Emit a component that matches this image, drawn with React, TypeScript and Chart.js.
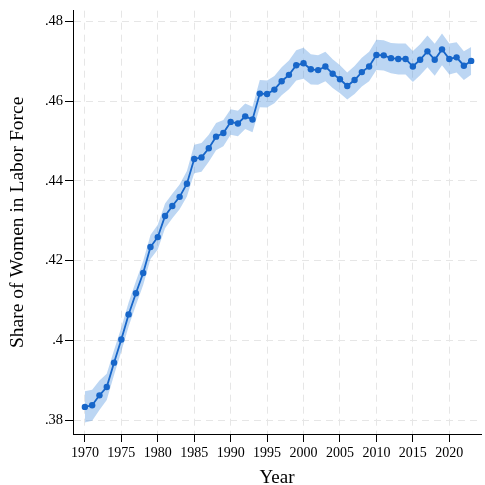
import React, { useEffect, useRef } from "react";
import { Chart, registerables } from "chart.js";

Chart.register(...registerables);

const years: number[] = [
  1970, 1971, 1972, 1973, 1974, 1975, 1976, 1977, 1978, 1979,
  1980, 1981, 1982, 1983, 1984, 1985, 1986, 1987, 1988, 1989,
  1990, 1991, 1992, 1993, 1994, 1995, 1996, 1997, 1998, 1999,
  2000, 2001, 2002, 2003, 2004, 2005, 2006, 2007, 2008, 2009,
  2010, 2011, 2012, 2013, 2014, 2015, 2016, 2017, 2018, 2019,
  2020, 2021, 2022, 2023,
];

const share: number[] = [
  0.3833, 0.3837, 0.3862, 0.3883, 0.3944, 0.4002, 0.4065, 0.4118, 0.4169, 0.4234,
  0.4259, 0.4312, 0.4337, 0.436, 0.4393, 0.4455, 0.4459, 0.4482, 0.4511, 0.452,
  0.4548, 0.4544, 0.4562, 0.4554, 0.4619, 0.4618, 0.4629, 0.465, 0.4666, 0.469,
  0.4695, 0.468, 0.4678, 0.4687, 0.4669, 0.4655, 0.4638, 0.4653, 0.4673, 0.4687,
  0.4716, 0.4715, 0.4708, 0.4706, 0.4706, 0.4687, 0.4704, 0.4725, 0.4704, 0.473,
  0.4706, 0.471, 0.4689, 0.4701,
];

// half-width of the confidence band, read per year
const halfWidth: number[] = [
  0.0039, 0.0039, 0.0037, 0.0033, 0.0031, 0.003, 0.003, 0.003, 0.003, 0.003,
  0.0031, 0.0031, 0.0031, 0.0031, 0.0032, 0.0036, 0.0036, 0.0034, 0.0034, 0.0033,
  0.0032, 0.0032, 0.0032, 0.0032, 0.0034, 0.0034, 0.0034, 0.0035, 0.0036, 0.0038,
  0.0039, 0.0038, 0.0037, 0.0037, 0.0036, 0.0035, 0.0034, 0.0035, 0.0036, 0.0037,
  0.0038, 0.0038, 0.0038, 0.0039, 0.0039, 0.0039, 0.0039, 0.004, 0.004, 0.004,
  0.0039, 0.0038, 0.0036, 0.0035,
];

const xTicks: number[] = [1970, 1975, 1980, 1985, 1990, 1995, 2000, 2005, 2010, 2015, 2020];
const yTicks: number[] = [0.38, 0.4, 0.42, 0.44, 0.46, 0.48];

const LINE = "#1766c9";
const BAND = "rgba(70,140,222,0.36)";
const GRID = "#e6e6e6";
const FONT = "'Liberation Serif', 'DejaVu Serif', serif";

function fmtY(v: number): string {
  let s = v.toFixed(2);
  s = s.replace(/0+$/, "");
  if (s.endsWith(".")) s = s.slice(0, -1);
  return s.replace(/^0/, "");
}

export default function App() {
  const ref = useRef<HTMLCanvasElement | null>(null);

  useEffect(() => {
    if (!ref.current) return;
    const main = years.map((y, i) => ({ x: y, y: share[i] }));
    const lower = years.map((y, i) => ({ x: y, y: share[i] - halfWidth[i] }));
    const upper = years.map((y, i) => ({ x: y, y: share[i] + halfWidth[i] }));

    const chart = new Chart(ref.current, {
      type: "line",
      data: {
        datasets: [
          {
            data: main,
            borderColor: LINE,
            backgroundColor: LINE,
            borderWidth: 1.8,
            pointRadius: 3.2,
            pointBorderWidth: 0,
            pointBackgroundColor: LINE,
            fill: false,
            tension: 0,
          },
          {
            data: lower,
            borderWidth: 0,
            borderColor: "rgba(0,0,0,0)",
            pointRadius: 0,
            fill: false,
            tension: 0,
          },
          {
            data: upper,
            borderWidth: 0,
            borderColor: "rgba(0,0,0,0)",
            backgroundColor: BAND,
            pointRadius: 0,
            fill: "-1",
            tension: 0,
          },
        ],
      },
      options: {
        animation: false,
        responsive: false,
        maintainAspectRatio: false,
        layout: { padding: { top: 7, right: 0, left: 0, bottom: 0 } },
        plugins: {
          legend: { display: false },
          tooltip: { enabled: false },
        },
        scales: {
          x: {
            type: "linear",
            min: 1968.37,
            max: 2024.35,
            afterBuildTicks: (s: any) => {
              s.ticks = xTicks.map((v) => ({ value: v }));
            },
            afterFit: (s: any) => {
              s.height = 51;
            },
            grid: {
              color: GRID,
              lineWidth: 1,
              drawTicks: true,
              tickLength: 8,
              tickColor: "#000",
              tickWidth: 1,
            },
            border: { display: true, color: "#000", width: 1, dash: [7, 5] },
            ticks: {
              color: "#000",
              padding: 3,
              maxRotation: 0,
              autoSkip: false,
              font: { family: FONT, size: 14 },
              callback: (v: any) => String(v),
            },
            title: {
              display: true,
              text: "Year",
              color: "#000",
              font: { family: FONT, size: 19, lineHeight: 0.76 },
              padding: { top: 0, bottom: 0 },
            },
          },
          y: {
            type: "linear",
            min: 0.3765,
            max: 0.4827,
            afterBuildTicks: (s: any) => {
              s.ticks = yTicks.map((v) => ({ value: v }));
            },
            afterFit: (s: any) => {
              s.width = 73;
            },
            grid: {
              color: GRID,
              lineWidth: 1,
              drawTicks: true,
              tickLength: 8,
              tickColor: "#000",
              tickWidth: 1,
            },
            border: { display: true, color: "#000", width: 1, dash: [7, 5] },
            ticks: {
              color: "#000",
              padding: 2,
              autoSkip: false,
              font: { family: FONT, size: 14.5 },
              callback: (v: any) => fmtY(Number(v)),
            },
            title: {
              display: true,
              text: "Share of Women in Labor Force",
              color: "#000",
              font: { family: FONT, size: 19.5, lineHeight: 1 },
              padding: { top: 8, bottom: 0 },
            },
          },
        },
      },
    });
    return () => chart.destroy();
  }, []);

  return (
    <div style={{ position: "fixed", left: 0, top: 0, width: 485, height: 485, background: "#fff" }}>
      <canvas ref={ref} width={485} height={485} style={{ display: "block", width: 485, height: 485 }} />
    </div>
  );
}
